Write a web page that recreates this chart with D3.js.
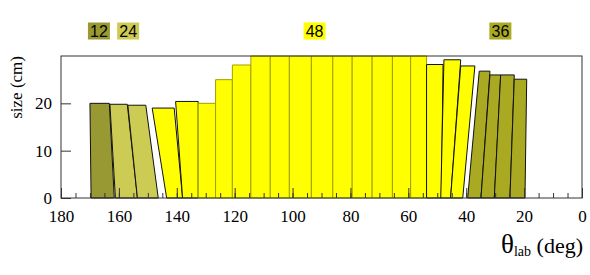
<html>
<head>
<meta charset="utf-8">
<title>theta lab sizes</title>
<script src="https://cdn.jsdelivr.net/npm/d3@7"></script>
<style>
  body { margin: 0; background: #fff; }
  .tick text { font-family: "Liberation Serif", serif; font-size: 17px; fill: #000; }
  .tick line { stroke: #333; }
  .domain { display: none; }
</style>
</head>
<body>
<div id="chart"></div>
<script>
// each element: theta at the two bottom corners and the two top corners (deg), and its size (cm)
var botHi = [169.6, 161.2, 153.6, 143.5, 138.0, 132.6, 126.6, 120.8, 114.4, 107.7, 101.1, 93.5, 86.1, 79.4, 72.5, 65.5, 59.2, 53.7, 48.8, 45.4, 39.5, 34.9, 30.3, 24.9];
var botLo = [161.6, 153.6, 146.4, 138.0, 132.6, 126.6, 120.8, 114.4, 107.7, 101.1, 93.5, 86.1, 79.4, 72.5, 65.5, 59.2, 53.7, 48.6, 45.4, 41.2, 34.9, 30.3, 24.9, 19.7];
var topHi = [170.0, 163.1, 156.9, 148.5, 140.4, 132.6, 126.6, 120.8, 114.4, 107.7, 101.1, 93.5, 86.1, 79.4, 72.5, 65.5, 59.2, 53.7, 47.7, 41.9, 35.5, 31.8, 28.1, 23.4];
var topLo = [163.3, 157.1, 150.7, 140.9, 132.6, 126.6, 120.8, 114.4, 107.7, 101.1, 93.5, 86.1, 79.4, 72.5, 65.5, 59.2, 53.7, 48.0, 41.9, 37.0, 31.8, 28.1, 23.4, 19.1];
var sizes = [20.0, 19.8, 19.6, 19.0, 20.4, 20.0, 25.0, 28.1, 30, 30, 30, 30, 30, 30, 30, 30, 30, 28.2, 29.2, 27.9, 26.8, 26.0, 26.0, 25.1];
var ring  = ["12", "24", "24", "48", "48", "48", "48", "48", "48", "48", "48", "48", "48", "48", "48", "48", "48", "48", "48", "48", "36", "36", "36", "36"];

var ringNames = ["12", "24", "48", "36"];
var xTicks = [180, 160, 140, 120, 100, 80, 60, 40, 20, 0];
var yTicks = [0, 10, 20];

var W = 590, H = 275;
var mLeft = 61, mRight = 582, mTop = 56, mBottom = 198;

var color = d3.scaleOrdinal().domain(ringNames).range(["#999933", "#cccc55", "#ffff00", "#aaaa22"]);
var x = d3.scaleLinear().domain([180, 0]).range([mLeft, mRight]);
var y = d3.scaleLinear().domain([0, 30]).range([mBottom, mTop]);

var svg = d3.select("#chart").append("svg")
    .attr("width", W)
    .attr("height", H);

var bars = botHi.map(function (d, i) {
    return { bh: d, bl: botLo[i], th: topHi[i], tl: topLo[i], s: sizes[i], r: ring[i] };
});

svg.selectAll("polygon.el").data(bars).enter().append("polygon")
    .attr("class", "el")
    .attr("points", function (d) {
        return [[x(d.bh), y(0)], [x(d.th), y(d.s)], [x(d.tl), y(d.s)], [x(d.bl), y(0)]].join(" ");
    })
    .attr("fill", function (d) { return color(d.r); })
    .attr("stroke", function (d) {
        var slanted = Math.abs(d.bh - d.th) > 0.5 || Math.abs(d.bl - d.tl) > 0.5;
        return slanted ? "#111" : d3.color(color(d.r)).darker(1.3);
    })
    .attr("stroke-width", 1);

// frame
svg.append("rect")
    .attr("x", mLeft).attr("y", mTop)
    .attr("width", mRight - mLeft).attr("height", mBottom - mTop)
    .attr("fill", "none").attr("stroke", "#333").attr("stroke-width", 1);

// x axis, ticks pointing inward
svg.append("g")
    .attr("transform", "translate(0," + mBottom + ")")
    .call(d3.axisBottom(x).tickValues(d3.range(0, 181, 5)).tickSize(-5).tickFormat(""));
svg.append("g")
    .attr("transform", "translate(0," + mBottom + ")")
    .call(d3.axisBottom(x).tickValues(xTicks).tickSize(-10).tickPadding(12).tickFormat(d3.format("d")));

// y axis
svg.append("g")
    .attr("transform", "translate(" + mLeft + ",0)")
    .call(d3.axisLeft(y).tickValues(yTicks).tickSize(-10).tickPadding(9));

// axis titles
svg.append("text")
    .attr("transform", "translate(22," + mTop + ") rotate(-90)")
    .attr("text-anchor", "end")
    .style("font-family", "Liberation Serif, serif")
    .style("font-size", "17px")
    .text("size (cm)");

var xt = svg.append("text")
    .attr("x", mRight + 1).attr("y", 253)
    .attr("text-anchor", "end")
    .style("font-family", "Liberation Serif, serif");
xt.append("tspan").style("font-size", "27px").text("θ");
xt.append("tspan").style("font-size", "14px").attr("dy", 3).text("lab");
xt.append("tspan").style("font-size", "22px").attr("dy", -3).text(" (deg)");

// ring labels
var labelTheta = { "12": 166.9, "24": 156.8, "48": 92.4, "36": 28.2 };
var lab = svg.selectAll("g.lab").data(ringNames).enter().append("g")
    .attr("class", "lab")
    .attr("transform", function (d) { return "translate(" + x(labelTheta[d]) + ",31)"; });
lab.append("rect")
    .attr("x", -11).attr("y", -8.5).attr("width", 22).attr("height", 17)
    .attr("fill", function (d) { return color(d); });
lab.append("text")
    .attr("text-anchor", "middle").attr("dy", "0.36em")
    .style("font-family", "Liberation Sans, sans-serif")
    .style("font-size", "16px")
    .text(function (d) { return d; });
</script>
</body>
</html>
